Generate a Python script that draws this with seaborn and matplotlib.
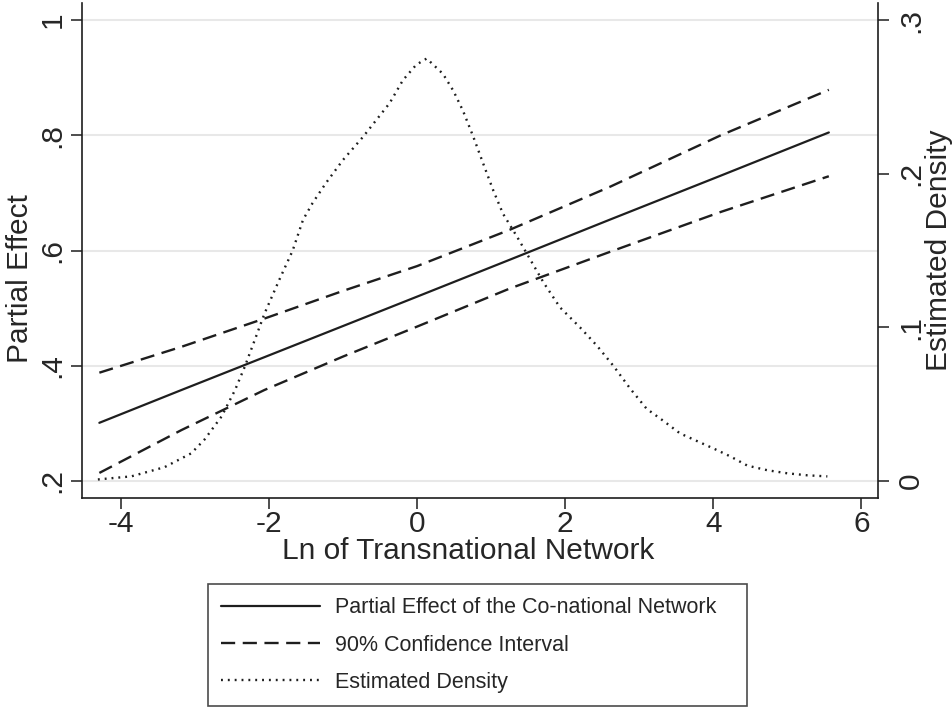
import numpy as np
import pandas as pd
import matplotlib
matplotlib.use('Agg')
import matplotlib.pyplot as plt
import seaborn as sns

# Partial effect line and 90% CI
line_x = [-4.29, -3.18, -2.06, -1.0, 0.0, 1.25, 2.61, 4.1, 5.56]
effect = [0.301, 0.358, 0.415, 0.469, 0.520, 0.584, 0.654, 0.730, 0.805]
ci_upper = [0.388, 0.433, 0.482, 0.530, 0.573, 0.636, 0.711, 0.800, 0.879]
ci_lower = [0.214, 0.2885, 0.358, 0.416, 0.468, 0.534, 0.598, 0.667, 0.729]

# Kernel density of the network variable (right axis)
dens_x = [-4.31, -3.86, -3.41, -3.05, -2.87, -2.64, -2.46, -2.33, -2.19, -2.06,
          -1.86, -1.68, -1.54, -1.41, -1.23, -1.00, -0.73, -0.55, -0.37, -0.19,
          -0.01, 0.13, 0.35, 0.49, 0.62, 0.76, 0.89, 1.03, 1.16, 1.35,
          1.53, 1.71, 1.93, 2.20, 2.43, 2.65, 2.88, 3.10, 3.33, 3.55,
          3.78, 4.01, 4.23, 4.46, 4.73, 5.00, 5.27, 5.54]
dens_y = [0.001, 0.003, 0.009, 0.018, 0.027, 0.042, 0.059, 0.074, 0.092, 0.109,
          0.131, 0.150, 0.170, 0.181, 0.194, 0.209, 0.224, 0.235, 0.246, 0.261,
          0.271, 0.275, 0.265, 0.254, 0.241, 0.224, 0.207, 0.189, 0.174, 0.159,
          0.144, 0.129, 0.113, 0.100, 0.088, 0.075, 0.060, 0.047, 0.039, 0.031,
          0.026, 0.021, 0.016, 0.010, 0.007, 0.005, 0.0037, 0.003]

x_ticks = [-4, -2, 0, 2, 4, 6]
x_ticklabels = ['-4', '-2', '0', '2', '4', '6']
left_ticks = [0.2, 0.4, 0.6, 0.8, 1.0]
left_ticklabels = ['.2', '.4', '.6', '.8', '1']
right_ticks = [0, 0.1, 0.2, 0.3]
right_ticklabels = ['0', '.1', '.2', '.3']

sns.set_style('white')
plt.rcParams['font.family'] = ['Liberation Sans', 'DejaVu Sans']

ink = '#1e1e1e'
fs = 21.5
fig = plt.figure(figsize=(9.53, 7.11), dpi=100)
ax = fig.add_axes([0.086, 0.2996, 0.835, 0.696])

df = pd.DataFrame({'x': line_x, 'effect': effect, 'upper': ci_upper, 'lower': ci_lower})
sns.lineplot(data=df, x='x', y='effect', ax=ax, color=ink, lw=1.6,
             label='Partial Effect of the Co-national Network')
sns.lineplot(data=df, x='x', y='upper', ax=ax, color=ink, lw=1.7,
             linestyle=(0, (6, 3.2)), label='90% Confidence Interval')
sns.lineplot(data=df, x='x', y='lower', ax=ax, color=ink, lw=1.7,
             linestyle=(0, (6, 3.2)))

ax.set_xlim(-4.525, 6.22)
ax.set_ylim(0.1705, 1.0295)
ax.set_xticks(x_ticks)
ax.set_xticklabels(x_ticklabels)
ax.set_yticks(left_ticks)
ax.set_yticklabels(left_ticklabels, rotation=90, va='center')
ax.grid(axis='y', color='#e8e8e8', lw=1.5)
ax.set_axisbelow(True)
ax.set_xlabel('Ln of Transnational Network', fontsize=fs)
ax.set_ylabel('Partial Effect', fontsize=fs)
ax.xaxis.set_label_coords(0.485, -0.079)
ax.yaxis.set_label_coords(-0.060, 0.444)
ax.tick_params(axis='both', direction='out', length=8, width=1.1, color=ink,
               labelsize=fs, left=True, bottom=True)
ax.tick_params(axis='x', pad=1)
ax.tick_params(axis='y', pad=3)
for side in ['left', 'bottom']:
    ax.spines[side].set_color(ink)
    ax.spines[side].set_linewidth(1.2)
ax.spines['top'].set_visible(False)
ax.spines['right'].set_visible(False)
ax.legend_.remove()

ax2 = ax.twinx()
dens = pd.DataFrame({'x': dens_x, 'density': dens_y})
sns.lineplot(data=dens, x='x', y='density', ax=ax2, color=ink, lw=1.7,
             linestyle=(0, (0.8, 2.1)), label='Estimated Density')
ax2.set_ylim(-0.01106, 0.31106)
ax2.set_yticks(right_ticks)
ax2.set_yticklabels(right_ticklabels, rotation=90, va='center')
ax2.set_ylabel('Estimated Density', fontsize=fs)
ax2.yaxis.set_label_coords(1.059, 0.50)
ax2.tick_params(axis='y', direction='out', length=8, width=1.1, color=ink,
                labelsize=fs, pad=6, right=True)
ax2.spines['right'].set_color(ink)
ax2.spines['right'].set_linewidth(1.2)
for side in ['top', 'left', 'bottom']:
    ax2.spines[side].set_visible(False)
ax2.grid(False)
ax2.legend_.remove()

handles = ax.get_lines()[:2] + ax2.get_lines()[:1]
labels = ['Partial Effect of the Co-national Network', '90% Confidence Interval',
          'Estimated Density']
leg = fig.legend(handles, labels, loc='upper left',
                 bbox_to_anchor=(0.2183, 0.0, 0.5656, 0.1786), mode='expand',
                 fontsize=15.5, frameon=True, fancybox=False, edgecolor=ink,
                 handlelength=4.6, handletextpad=0.7, labelspacing=0.75,
                 borderpad=0.62, borderaxespad=0)
leg.get_frame().set_linewidth(1.2)

fig.savefig('out.png', dpi=100)
